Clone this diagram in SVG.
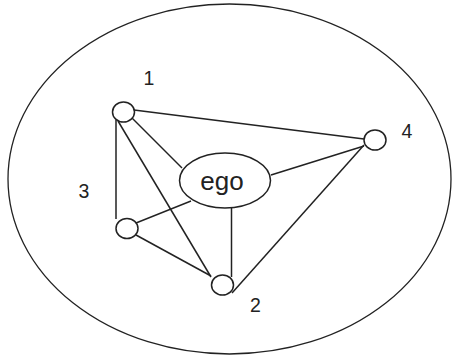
<svg xmlns="http://www.w3.org/2000/svg" width="453" height="355" viewBox="0 0 453 355">
<style>
.ln{stroke:#222;stroke-width:1.5;fill:none}
.nd{stroke:#222;stroke-width:1.5;fill:#fff}
.lb{font-family:"Liberation Sans",Arial,sans-serif;font-size:19.5px;fill:#222;text-anchor:middle}
</style>
<rect width="453" height="355" fill="#fff"/>
<ellipse cx="229.5" cy="179" rx="221.5" ry="175" fill="none" stroke="#222" stroke-width="1.3"/>
<g id="connectors">
<line class="ln" x1="134" y1="110" x2="364" y2="139"/>
<line class="ln" x1="132" y1="118" x2="182" y2="168"/>
<line class="ln" x1="118" y1="121" x2="211" y2="277"/>
<line class="ln" x1="116" y1="120" x2="116" y2="219"/>
<line class="ln" x1="136" y1="223" x2="191" y2="201"/>
<line class="ln" x1="136" y1="235" x2="211" y2="276"/>
<line class="ln" x1="231.5" y1="198" x2="231.5" y2="277"/>
<line class="ln" x1="271" y1="175" x2="364" y2="146"/>
<line class="ln" x1="232" y1="293" x2="364" y2="145"/>
</g>
<g id="node-ego">
<ellipse class="nd" cx="225" cy="180.5" rx="45.5" ry="27.5"/>
<text x="222" y="190" style="font-family:'Liberation Sans',Arial,sans-serif;font-size:26px;fill:#222;text-anchor:middle">ego</text>
</g>
<g id="node-1">
<ellipse class="nd" cx="123.5" cy="112" rx="11" ry="10"/>
<text class="lb" x="149" y="85">1</text>
</g>
<g id="node-2">
<ellipse class="nd" cx="222.5" cy="285" rx="11" ry="10"/>
<text class="lb" x="255.5" y="312">2</text>
</g>
<g id="node-3">
<ellipse class="nd" cx="127" cy="228.5" rx="11" ry="10"/>
<text class="lb" x="84" y="198">3</text>
</g>
<g id="node-4">
<ellipse class="nd" cx="375" cy="140" rx="11" ry="10"/>
<text class="lb" x="407" y="138">4</text>
</g>
</svg>
